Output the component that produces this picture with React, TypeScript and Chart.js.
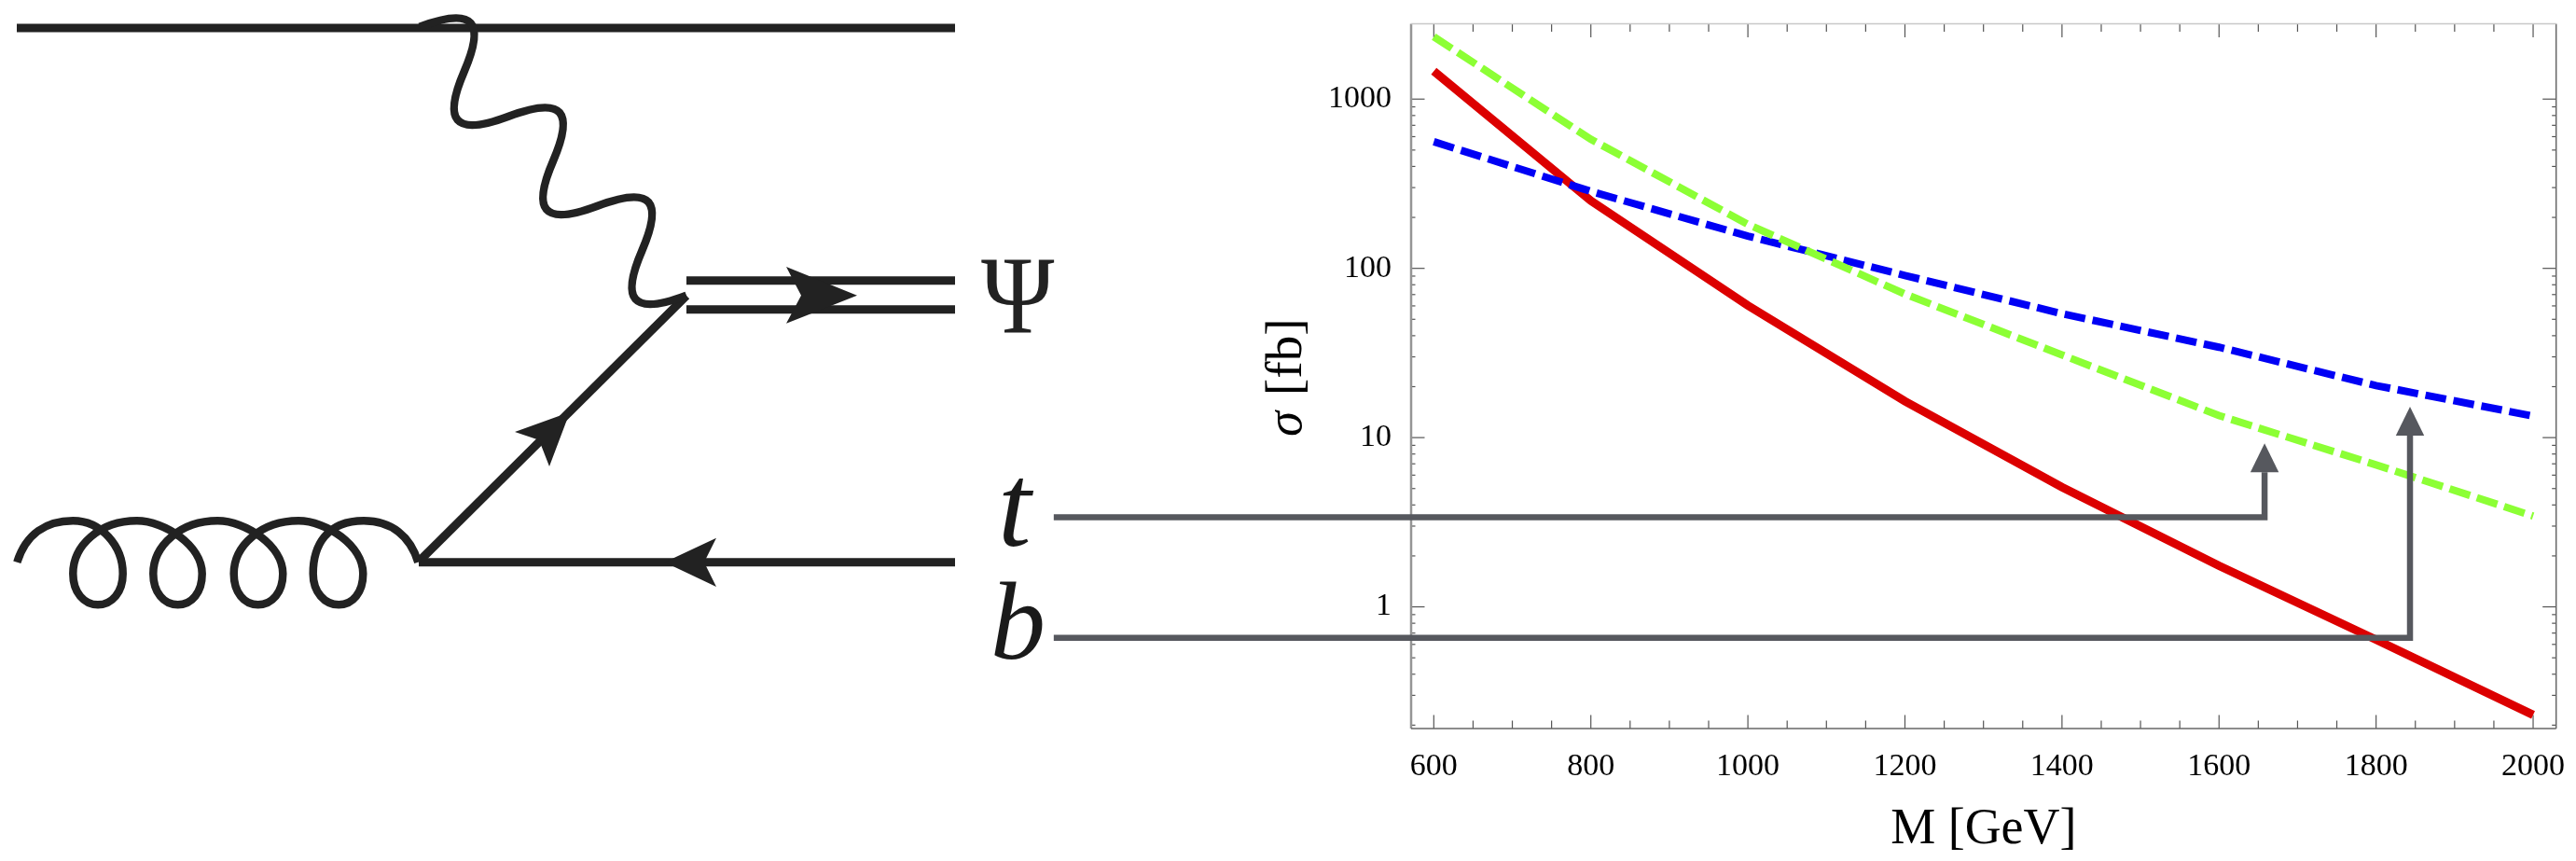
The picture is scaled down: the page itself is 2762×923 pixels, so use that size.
import React, { useEffect, useRef } from "react";
import { Chart, registerables } from "chart.js";

Chart.register(...registerables);

const masses = [600, 800, 1000, 1200, 1400, 1600, 1800, 2000];
const redSigma = [1462, 251, 60.3, 16.4, 5.1, 1.75, 0.64, 0.23];
const greenSigma = [2335, 579, 182, 70.5, 30.8, 13.5, 6.9, 3.44];
const blueSigma = [560, 285, 155, 90.8, 54, 34.2, 20.3, 13.4];

const xMajorTicks = [600, 800, 1000, 1200, 1400, 1600, 1800, 2000];
const xMinorTicks = [650, 700, 750, 850, 900, 950, 1050, 1100, 1150, 1250, 1300, 1350, 1450, 1500, 1550, 1650, 1700, 1750, 1850, 1900, 1950];
const yMajorTicks = [1, 10, 100, 1000];
const yMinorTicks = [0.2, 0.3, 0.4, 0.5, 0.6, 0.7, 0.8, 0.9, 2, 3, 4, 5, 6, 7, 8, 9, 20, 30, 40, 50, 60, 70, 80, 90, 200, 300, 400, 500, 600, 700, 800, 900];

const tCallout = [[116, 3.38], [1658, 3.38], [1658, 9.25]];
const bCallout = [[116, 0.656], [1843.2, 0.656], [1843.2, 15.2]];

const INK = "#222222";
const GREY = "#56585E";
const SERIF = '"Liberation Serif", serif';

function fill(ctx: CanvasRenderingContext2D, pts: number[][]) {
  ctx.beginPath();
  pts.forEach((p, i) => (i ? ctx.lineTo(p[0], p[1]) : ctx.moveTo(p[0], p[1])));
  ctx.closePath();
  ctx.fill();
}

function photonPath() {
  const P0 = [450, 28.7];
  const step = [47.67, 48];
  const c1 = [60, -22.7];
  const c2 = [70, -3.7];
  let d = `M${P0[0]},${P0[1]}`;
  for (let i = 0; i < 6; i++) {
    const sx = P0[0] + i * step[0];
    const sy = P0[1] + i * step[1];
    const ex = sx + step[0];
    const ey = sy + step[1];
    if (i % 2 === 0) {
      d += `C${sx + c1[0]},${sy + c1[1]} ${sx + c2[0]},${sy + c2[1]} ${ex},${ey}`;
    } else {
      d += `C${sx + step[0] - c2[0]},${sy + step[1] - c2[1]} ${sx + step[0] - c1[0]},${sy + step[1] - c1[1]} ${ex},${ey}`;
    }
  }
  return d;
}

function gluonPath() {
  const loops = [[78.3, 105, 131.7], [164.3, 190.7, 216.7], [250.7, 276.7, 303.3], [335.7, 363.3, 389.3]];
  const tops = [78.3, 146.7, 233.3, 320, 390];
  const T = 558.3, M = 615, B = 648.3;
  let d = `M18.3,602.7C28,572 50,${T} ${tops[0]},${T}`;
  loops.forEach(([l, b, r], i) => {
    d += `C${tops[i] + 30},${T} ${r},585 ${r},${M}`;
    d += `C${r},635 ${b + 15},${B} ${b},${B}`;
    d += `C${b - 15},${B} ${l},635 ${l},${M}`;
    d += `C${l},585 ${tops[i + 1] - 40},${T} ${tops[i + 1]},${T}`;
  });
  d += `C420,${T} 440,575 448.3,602.7`;
  return d;
}

const diagramPlugin = {
  id: "diagram",
  afterDraw(chart: any) {
    const ctx: CanvasRenderingContext2D = chart.ctx;
    ctx.save();
    ctx.strokeStyle = INK;
    ctx.fillStyle = INK;
    ctx.lineCap = "butt";
    ctx.lineJoin = "round";
    ctx.lineWidth = 9;
    ctx.beginPath();
    ctx.moveTo(18, 30); ctx.lineTo(1024, 30);
    ctx.moveTo(736, 300.7); ctx.lineTo(1024, 300.7);
    ctx.moveTo(736, 331.7); ctx.lineTo(1024, 331.7);
    ctx.moveTo(449, 602.7); ctx.lineTo(1024, 602.7);
    ctx.stroke();
    ctx.lineWidth = 9;
    ctx.beginPath();
    ctx.moveTo(449, 602); ctx.lineTo(736, 317);
    ctx.stroke();
    ctx.lineWidth = 8.5;
    ctx.stroke(new Path2D(photonPath()));
    ctx.stroke(new Path2D(gluonPath()));
    fill(ctx, [[919, 316.7], [843, 286], [859, 316.7], [843, 346.7]]);
    fill(ctx, [[611, 441.7], [552, 463], [578, 471.7], [589, 500]]);
    fill(ctx, [[712.6, 602.7], [768, 576.7], [755, 602.7], [768, 629]]);
    ctx.textAlign = "left";
    ctx.textBaseline = "alphabetic";
    ctx.save();
    ctx.translate(1052, 356);
    ctx.scale(0.9, 1);
    ctx.font = `118px ${SERIF}`;
    ctx.fillText("Ψ", 0, 0);
    ctx.restore();
    ctx.fillStyle = "#1a1a1a";
    ctx.font = `italic 128px ${SERIF}`;
    ctx.fillText("t", 1070, 585);
    ctx.font = `italic 118px ${SERIF}`;
    ctx.fillText("b", 1062, 706);
    ctx.restore();
  },
  afterDatasetsDraw(chart: any) {
    const ctx: CanvasRenderingContext2D = chart.ctx;
    const { x, y } = chart.scales;
    ctx.save();
    [tCallout, bCallout].forEach((c) => {
      const pts = c.map(([a, b]) => [x.getPixelForValue(a), y.getPixelForValue(b)]);
      const tip = pts[2];
      const baseY = tip[1] + 31;
      ctx.strokeStyle = GREY;
      ctx.fillStyle = GREY;
      ctx.lineWidth = 6.5;
      ctx.lineJoin = "miter";
      ctx.lineCap = "butt";
      ctx.beginPath();
      ctx.moveTo(pts[0][0], pts[0][1]);
      ctx.lineTo(pts[1][0], pts[1][1]);
      ctx.lineTo(tip[0], baseY);
      ctx.stroke();
      fill(ctx, [tip, [tip[0] + 15.2, baseY], [tip[0] - 15.2, baseY]]);
    });
    ctx.restore();
  },
  beforeDatasetsDraw(chart: any) {
    const ctx: CanvasRenderingContext2D = chart.ctx;
    const { x, y } = chart.scales;
    const a = chart.chartArea;
    ctx.save();
    ctx.lineCap = "butt";
    ctx.strokeStyle = "#555555";
    ctx.lineWidth = 1.2;
    const seg = (x1: number, y1: number, x2: number, y2: number) => {
      ctx.beginPath();
      ctx.moveTo(x1, y1);
      ctx.lineTo(x2, y2);
      ctx.stroke();
    };
    const xt = (v: number, len: number) => {
      const p = x.getPixelForValue(v);
      seg(p, a.bottom, p, a.bottom - len);
      seg(p, a.top, p, a.top + len);
    };
    const yt = (v: number, len: number) => {
      const p = y.getPixelForValue(v);
      seg(a.left, p, a.left + len, p);
      seg(a.right, p, a.right - len, p);
    };
    xMajorTicks.forEach((v) => xt(v, 14.5));
    xMinorTicks.forEach((v) => xt(v, 8.5));
    yMajorTicks.forEach((v) => yt(v, 14.5));
    yMinorTicks.forEach((v) => yt(v, 4.5));
    ctx.lineWidth = 2.5;
    ctx.strokeStyle = "#959595";
    seg(a.left, a.top, a.left, a.bottom);
    ctx.lineWidth = 1.5;
    ctx.strokeStyle = "#666666";
    seg(a.left, a.bottom, a.right, a.bottom);
    seg(a.right, a.top, a.right, a.bottom);
    ctx.strokeStyle = "#c8c8c8";
    seg(a.left, a.top, a.right, a.top);
    // vertical axis label, mixed italic and upright
    ctx.save();
    ctx.translate(1395, 468);
    ctx.rotate(-Math.PI / 2);
    ctx.fillStyle = "#000000";
    ctx.textAlign = "left";
    ctx.textBaseline = "alphabetic";
    ctx.font = `italic 55px ${SERIF}`;
    ctx.fillText("σ", 0, 0);
    ctx.font = `55px ${SERIF}`;
    ctx.fillText("[fb]", 44, 0);
    ctx.restore();
    ctx.restore();
  },
};

function series(values: number[]) {
  return masses.map((m, i) => ({ x: m, y: values[i] }));
}

export default function App() {
  const ref = useRef<HTMLCanvasElement>(null);
  useEffect(() => {
    const chart = new Chart(ref.current!, {
      type: "line",
      data: {
        datasets: [
          { label: "green", data: series(greenSigma), borderColor: "#8CFF35", borderWidth: 8, borderDash: [23, 7.7], borderCapStyle: "butt", pointRadius: 0, tension: 0 },
          { label: "blue", data: series(blueSigma), borderColor: "#0000F5", borderWidth: 8, borderDash: [22.5, 8], borderCapStyle: "butt", pointRadius: 0, tension: 0 },
          { label: "red", data: series(redSigma), borderColor: "#DC0000", borderWidth: 9, borderCapStyle: "butt", pointRadius: 0, tension: 0 },
        ],
      },
      options: {
        responsive: false,
        animation: false,
        layout: { padding: { left: 1393, right: 21.3, top: 25.5, bottom: 1 } },
        plugins: { legend: { display: false }, tooltip: { enabled: false }, title: { display: false } },
        scales: {
          x: {
            type: "linear",
            bounds: "data",
            min: 571.1,
            max: 2029.3,
            grid: { display: false },
            border: { display: false },
            afterFit: (s: any) => { s.height = 141; s.paddingLeft = 0; s.paddingRight = 0; s.paddingTop = 0; s.paddingBottom = 0; },
            afterBuildTicks: (s: any) => { s.ticks = xMajorTicks.map((value) => ({ value })); },
            ticks: {
              autoSkip: false,
              maxRotation: 0,
              minRotation: 0,
              padding: 13,
              color: "#000000",
              font: { family: "Liberation Serif", size: 34 },
              callback: (v: any) => String(v),
            },
            title: {
              display: true,
              text: "M [GeV]",
              color: "#000000",
              font: { family: "Liberation Serif", size: 54 },
              padding: { top: 0, bottom: 0 },
            },
          },
          y: {
            type: "logarithmic",
            bounds: "data",
            min: 0.191,
            max: 2786,
            grid: { display: false },
            border: { display: false },
            afterFit: (s: any) => { s.width = 120; s.paddingLeft = 0; s.paddingRight = 0; s.paddingTop = 0; s.paddingBottom = 0; },
            afterBuildTicks: (s: any) => { s.ticks = yMajorTicks.map((value) => ({ value })); },
            ticks: {
              autoSkip: false,
              padding: 13,
              color: "#000000",
              font: { family: "Liberation Serif", size: 34 },
              callback: (v: any) => String(v),
            },
          },
        },
      },
      plugins: [diagramPlugin],
    } as any);
    return () => chart.destroy();
  }, []);
  return (
    <div style={{ position: "absolute", left: 0, top: 0, width: 2762, height: 923, background: "#ffffff" }}>
      <canvas ref={ref} width={2762} height={923} style={{ display: "block" }} />
    </div>
  );
}
